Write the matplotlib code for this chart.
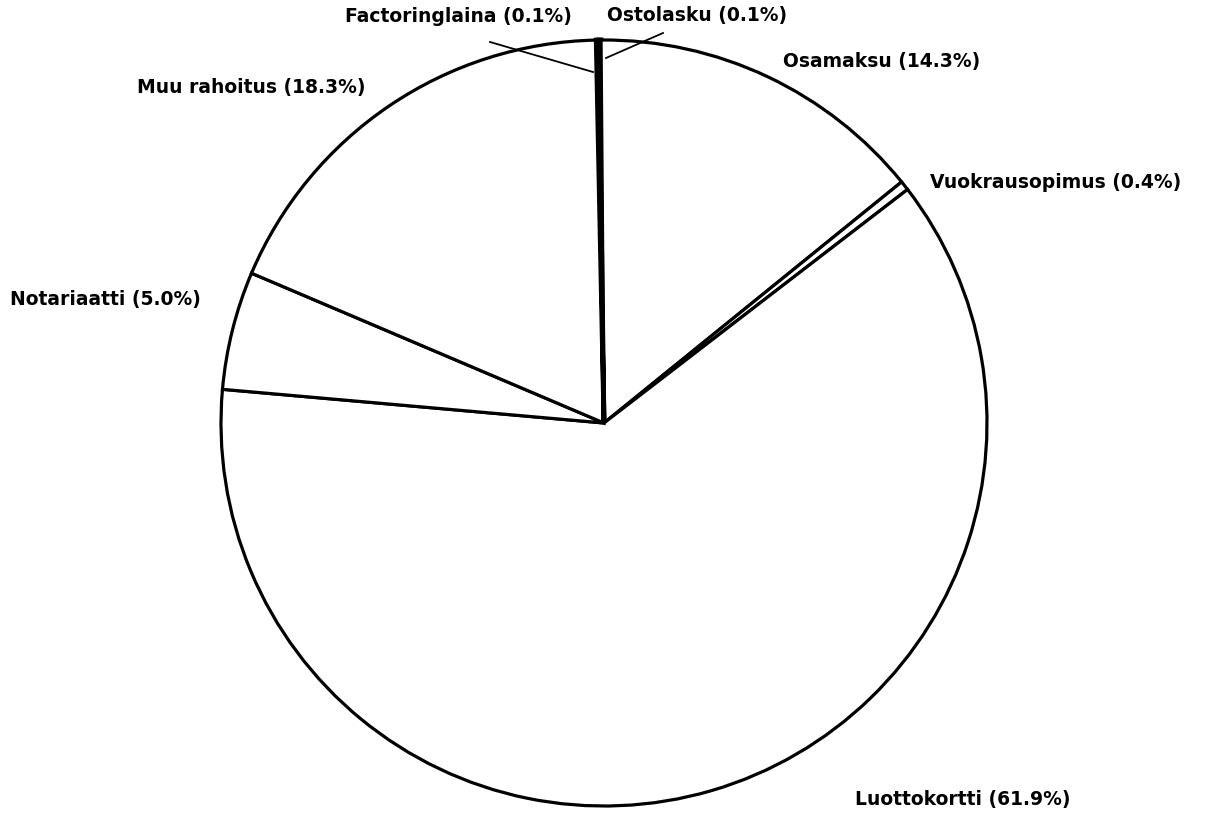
import matplotlib.pyplot as plt

# slices, clockwise from the top
labels = ['Ostolasku', 'Osamaksu', 'Vuokrausopimus', 'Luottokortti',
          'Notariaatti', 'Muu rahoitus', 'Factoringlaina']
shares = [0.1, 14.3, 0.4, 61.9, 5.0, 18.3, 0.1]
fills = ['#222222', 'white', 'white', 'white', 'white', 'white', 'black']

# label placement in pixels (x, y from top), with alignment
label_pos = [(607, 15, 'left'), (783, 62, 'left'), (930, 182, 'left'),
             (855, 800, 'left'), (10, 300, 'left'), (137, 88, 'left'),
             (572, 16, 'right')]

W, H = 1205, 831
fig = plt.figure(figsize=(W / 100, H / 100), dpi=100)
ax = fig.add_axes([0, 0, 1, 1])

cx, cy, r = 604, H - 423, 383
wedges, _ = ax.pie(shares, startangle=90.8, counterclock=False, colors=fills,
                   center=(cx, cy), radius=r, frame=True,
                   wedgeprops=dict(edgecolor='black', linewidth=2.3))
# the two tiny slices print as a solid dark bar
for w, s in zip(wedges, shares):
    if s < 0.2:
        w.set_linewidth(3.5)
ax.set_xlim(0, W)
ax.set_ylim(0, H)
ax.set_aspect('equal')
ax.axis('off')

for name, val, (x, y, ha) in zip(labels, shares, label_pos):
    ax.text(x, H - y, f'{name} ({val:.1f}%)', ha=ha, va='center',
            fontsize=13.5, fontweight='bold', color='black')

# leader lines for the two thin slices
ax.plot([490, 593], [H - 42, H - 72], color='black', lw=1.3)
ax.plot([606, 663], [H - 58, H - 33], color='black', lw=1.3)

fig.savefig('out.png', dpi=100, facecolor='white')
